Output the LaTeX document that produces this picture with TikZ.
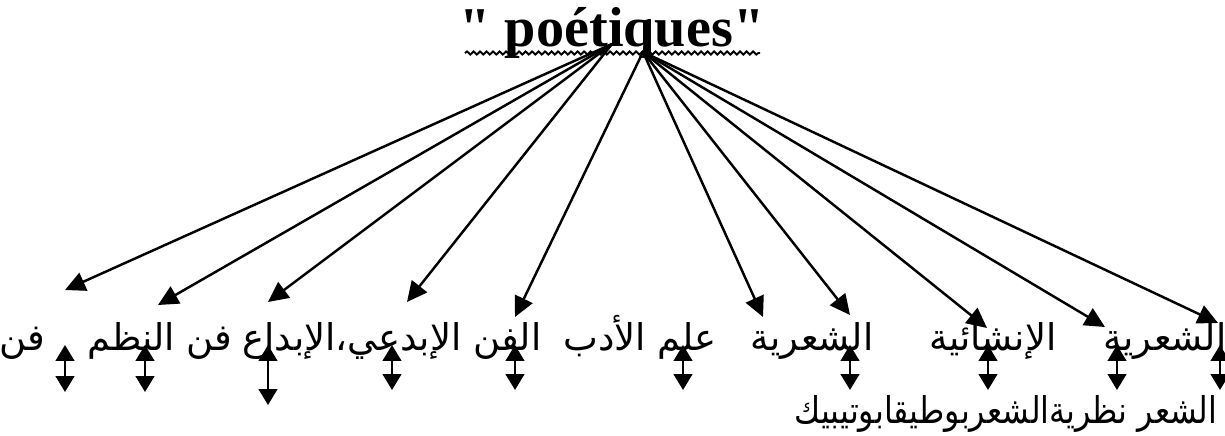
\documentclass[tikz,border=0pt]{standalone}
\usepackage{graphicx}
\usepackage{fontspec}
\setmainfont{Liberation Serif}
\newfontfamily\titlefont[Ligatures=TeXOff]{Liberation Serif}
\newfontfamily\arabicfont[Script=Arabic]{DejaVu Sans}
\TeXXeTstate=1
\usetikzlibrary{arrows.meta,decorations.pathmorphing}

\begin{document}
\begin{tikzpicture}[x=0.02cm, y=-0.02cm,
    ar/.style={line width=1.4pt, -{Triangle[length=11.5pt, width=11pt]}},
    dar/.style={line width=1.4pt, {Triangle[length=9pt, width=10.5pt]}-{Triangle[length=9pt, width=10.5pt]}},
    w/.style={font=\arabicfont\fontsize{21}{25}\selectfont, anchor=base, inner sep=0pt}]
  \useasboundingbox (0,0) rectangle (1225,436);
  \node[font=\titlefont\bfseries\fontsize{32}{36}\selectfont, anchor=base, inner sep=0pt] (title) at (612,47) {" poétiques"};
  \draw[line width=1.1pt, decorate, decoration={snake, amplitude=0.9pt, segment length=3.7pt}] (465,53) -- (760,53);
  \coordinate (oa) at (612,44);
  \coordinate (ob) at (643,52);
  \foreach \i/\x/\y in {1/65/290, 2/158/305, 3/268/302, 4/407/302}
    {\coordinate (p\i) at (\x,\y); \draw[ar] (oa) -- (p\i);}
  \foreach \i/\x/\y in {5/515/317, 6/763/317, 7/850/315, 8/987/328, 9/1105/327, 10/1218/323}
    {\coordinate (p\i) at (\x,\y); \draw[ar] (ob) -- (p\i);}
  \node[w] (t1) at (22,350) {\beginR فن\endR};
  \node[w] (t2) at (160,350) {\beginR فن النظم\endR};
  \node[w] (t3) at (392,350) {\beginR الفن الإبدعي،الإبداع\endR};
  \node[w] (t4) at (640,350) {\beginR علم الأدب\endR};
  \node[w] (t5) at (812,350) {\beginR الشعرية\endR};
  \node[w] (t6) at (993,350) {\beginR الإنشائية\endR};
  \node[w] (t7) at (1165,350) {\beginR الشعرية\endR};
  \node[w] (t8) at (1006,423) {\scalebox{0.86}[1]{\beginR الشعر  نظريةالشعربوطيقابوتيبيك\endR}};
  \foreach \i/\x/\b in {1/65/392, 2/145/392, 3/268/405, 4/392/390, 5/515/390, 6/683/390, 7/850/390, 8/988/390, 9/1117/390, 10/1220/390}
    {\coordinate (u\i) at (\x,345); \coordinate (d\i) at (\x,\b); \draw[dar] (u\i) -- (d\i);}
\end{tikzpicture}
\end{document}
